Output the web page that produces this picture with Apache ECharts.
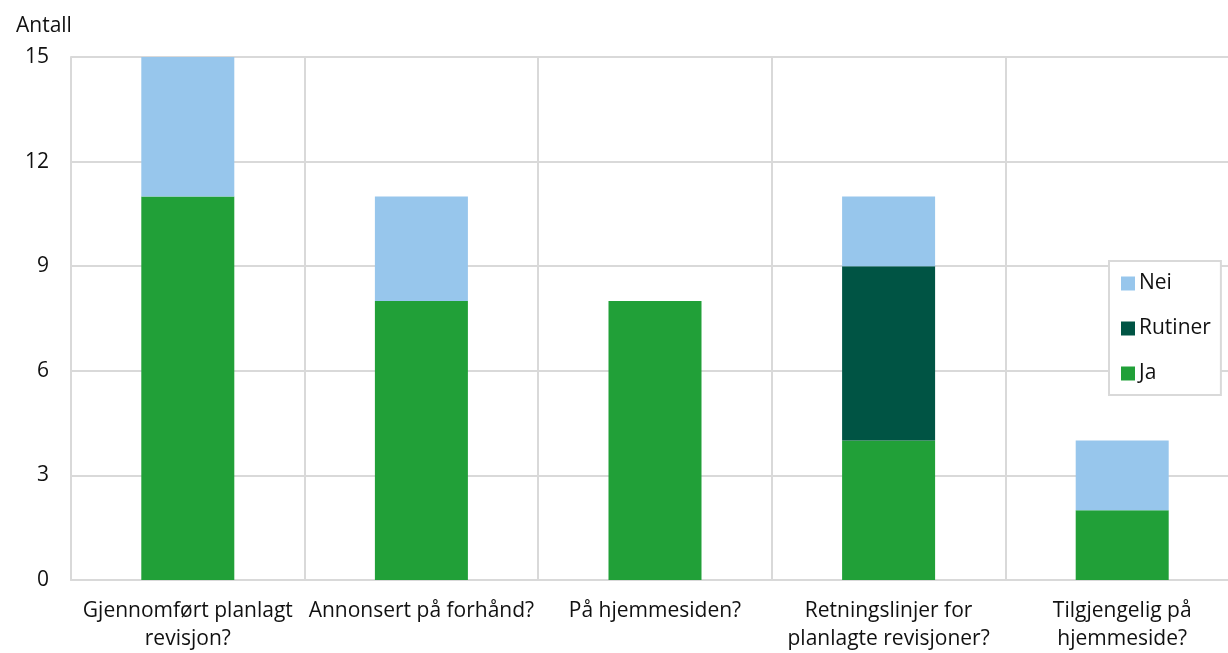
<!DOCTYPE html>
<html>
<head>
<meta charset="utf-8">
<script src="https://cdn.jsdelivr.net/npm/echarts@6/dist/echarts.min.js"></script>
<style>
  html, body { margin: 0; padding: 0; background: #fff; overflow: hidden; }
  /* the plot runs a little past the right edge of the window, as in the source */
  #chart { width: 1239px; height: 653px; }
</style>
</head>
<body>
<div id="chart"></div>
<script>
const categories = [
  "Gjennomført planlagt\nrevisjon?",
  "Annonsert på forhånd?",
  "På hjemmesiden?",
  "Retningslinjer for\nplanlagte revisjoner?",
  "Tilgjengelig på\nhjemmeside?",
];
const ja = [11, 8, 8, 4, 2];
const rutiner = [0, 0, 0, 5, 0];
const nei = [4, 3, 0, 2, 2];
const yTicks = [0, 3, 6, 9, 12, 15];

const font = "'Open Sans', 'Noto Sans', sans-serif";
const grid = "#d9d9d9";
const ink = "#111";

const chart = echarts.init(document.getElementById("chart"), null, { renderer: "canvas" });

chart.setOption({
  animation: false,
  textStyle: { fontFamily: font },
  title: {
    text: "Antall",
    left: 11,
    top: 11,
    textStyle: { fontFamily: font, fontSize: 21, fontWeight: "normal", color: ink },
  },
  grid: { left: 71, top: 57, right: 0, bottom: 73 },
  legend: {
    orient: "vertical",
    left: 1109,
    top: 261,
    data: ["Nei", "Rutiner", "Ja"],
    icon: "rect",
    itemWidth: 14,
    itemHeight: 14,
    itemGap: 24,
    padding: [12, 10, 11, 12],
    borderColor: grid,
    borderWidth: 2,
    backgroundColor: "#fff",
    textStyle: { fontFamily: font, fontSize: 21, color: ink, padding: [0, 0, 0, -1] },
  },
  xAxis: {
    type: "category",
    data: categories,
    axisLine: { show: true, lineStyle: { color: grid, width: 2 } },
    axisTick: { show: false },
    splitLine: { show: true, lineStyle: { color: grid, width: 2 } },
    axisLabel: {
      interval: 0,
      margin: 17,
      fontFamily: font,
      fontSize: 21,
      lineHeight: 28,
      color: ink,
    },
  },
  yAxis: {
    type: "value",
    min: yTicks[0],
    max: yTicks[yTicks.length - 1],
    interval: 3,
    axisLine: { show: true, lineStyle: { color: grid, width: 2 } },
    axisTick: { show: false },
    splitLine: { lineStyle: { color: grid, width: 2 } },
    axisLabel: { margin: 22, fontFamily: font, fontSize: 21, color: ink },
  },
  series: [
    { name: "Ja", type: "bar", stack: "a", data: ja, barWidth: 93, itemStyle: { color: "#21a038" } },
    { name: "Rutiner", type: "bar", stack: "a", data: rutiner, barWidth: 93, itemStyle: { color: "#005444" } },
    { name: "Nei", type: "bar", stack: "a", data: nei, barWidth: 93, itemStyle: { color: "#97c6ec" } },
  ],
});
</script>
</body>
</html>
